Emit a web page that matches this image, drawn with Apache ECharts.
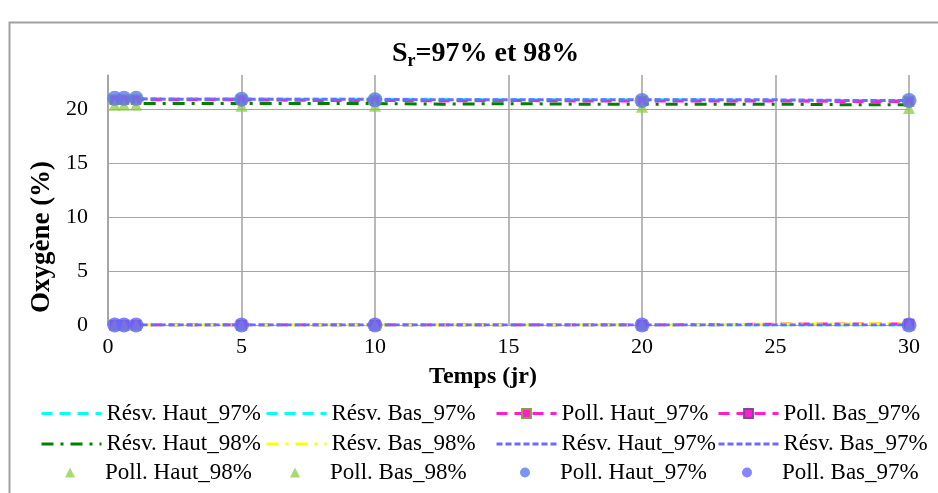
<!DOCTYPE html>
<html>
<head>
<meta charset="utf-8">
<script src="https://cdn.jsdelivr.net/npm/echarts@6/dist/echarts.min.js"></script>
<style>html,body{margin:0;padding:0;background:#fff}#c{width:938px;height:493px}</style>
</head>
<body>
<div id="c"></div>
<script>
// ---- data ----
const lineX = [0.25, 0.6, 1.05, 2.5, 5, 7.5, 10, 12.5, 15, 17.5, 20, 22.5, 25, 27.5, 30];
const markerX = [0.25, 0.6, 1.05, 5, 10, 20, 30];

const resvHaut97 = [20.95,20.95,20.95,20.95,20.95,20.9,20.9,20.9,20.85,20.85,20.85,20.85,20.8,20.8,20.8];
const resvBas97 = [0,0,0,0,0,0,0,0,0,0,0,0,0,0,0];
const pollHaut97Line = [20.85,20.85,20.85,20.85,20.85,20.8,20.8,20.75,20.8,20.75,20.75,20.75,20.75,20.7,20.7];
const pollBas97Line = [0,0,0,0,0,0,0,0,0,0,0,0.02,0.08,0.1,0.1];
const resvHaut98 = [20.5,20.5,20.5,20.5,20.5,20.5,20.5,20.45,20.5,20.45,20.45,20.45,20.45,20.4,20.4];
const resvBas98 = [0,0,0,0,0,0,0,0,0,0,0,0.02,0.08,0.1,0.12];
const resvHaut97b = [20.95,20.95,20.95,20.9,20.9,20.9,20.9,20.85,20.85,20.85,20.85,20.85,20.85,20.8,20.8];
const resvBas97b = [0,0,0,0,0,0,0,0,0,0,0,0,0,0,0];

const pollHaut98 = [20.4,20.4,20.4,20.3,20.3,20.2,20.1];
const pollBas98 = [0,0,0,0,0,0,0];
const pollHaut97 = [21.0,21.0,21.0,20.9,20.85,20.8,20.8];
const pollBas97 = [0,0,0,0,0,0,0];

const xTicks = [0,5,10,15,20,25,30];
const yGrid = [5,10,15,20];

const names = [
  'Résv. Haut_97%','Résv. Bas_97%','Poll. Haut_97%','Poll. Bas_97%',
  'Résv. Haut_98%','Résv. Bas_98%','Résv. Haut_97% ','Résv. Bas_97% ',
  'Poll. Haut_98%','Poll. Bas_98%','Poll. Haut_97% ','Poll. Bas_97% '
];

// ---- build ----
const pair = (xs, ys) => xs.map((x,i)=>[x, ys[i]]);
const pairMarked = (xs, ys) => xs.map((x,i)=>({value:[x, ys[i]], symbol: markerX.includes(x) ? 'rect' : 'none'}));
const FONT = 'Liberation Serif';

function lineSeries(name, data, color, dash, extra) {
  return Object.assign({
    name, type:'line', data, symbol:'none', showSymbol:true,
    lineStyle:{color, width:3, type:dash},
    itemStyle:{color},
    z:2
  }, extra||{});
}
const dashed = [11,7];
const dashDot = [12,7,3,7];
const shortDash = [6,3];

const series = [
  lineSeries(names[0], pair(lineX,resvHaut97), '#00FFFF', dashed, {
    markLine:{silent:true, symbol:'none', animation:false, label:{show:false},
      lineStyle:{color:'#A6A6A6', width:1, type:'solid'}, emphasis:{disabled:true},
      data: yGrid.map(v=>({yAxis:v}))}
  }),
  lineSeries(names[1], pair(lineX,resvBas97), '#00FFFF', dashed),
  lineSeries(names[2], pairMarked(lineX,pollHaut97Line), '#FF1DCE', dashed, {
    symbol:'rect', symbolSize:9, itemStyle:{color:'#FF1DCE', borderColor:'#8E9A48', borderWidth:1.5}}),
  lineSeries(names[3], pairMarked(lineX,pollBas97Line), '#FF1DCE', dashed, {
    symbol:'rect', symbolSize:9, itemStyle:{color:'#FF1DCE', borderColor:'#7A4A9A', borderWidth:1.5}}),
  lineSeries(names[4], pair(lineX,resvHaut98), '#008000', dashDot),
  lineSeries(names[5], pair(lineX,resvBas98), '#FFFF00', dashDot),
  lineSeries(names[6], pair(lineX,resvHaut97b), '#6B6BFF', shortDash),
  lineSeries(names[7], pair(lineX,resvBas97b), '#6B6BFF', shortDash),
  {name:names[8], type:'scatter', data:pair(markerX,pollHaut98), symbol:'triangle', symbolSize:12, itemStyle:{color:'#92D050'}, z:3},
  {name:names[9], type:'scatter', data:pair(markerX,pollBas98), symbol:'triangle', symbolSize:12, itemStyle:{color:'#92D050'}, z:3},
  {name:names[10], type:'scatter', data:pair(markerX,pollHaut97), symbol:'circle', symbolSize:15, itemStyle:{color:'#5C7CE8'}, z:4},
  {name:names[11], type:'scatter', data:pair(markerX,pollBas97), symbol:'circle', symbolSize:15, itemStyle:{color:'#6666FF'}, z:4}
];

const legendCols = [40, 265, 495, 717];
const legText = {fontFamily:FONT, fontSize:23, color:'#000', lineHeight:22};
const noSym = n => ({name:n, itemStyle:{opacity:0}});
const legends = [];
legendCols.forEach((left, c) => {
  legends.push({
    orient:'vertical', left, top:402, padding:0, itemWidth:60, itemHeight:11, itemGap:7.5,
    selectedMode:false,
    lineStyle:{width:3},
    data:[ c < 2 ? noSym(names[c]) : {name:names[c]}, noSym(names[c+4]) ],
    textStyle:legText
  });
  legends.push({
    orient:'vertical', left:left+25, top:461, padding:0, itemWidth:10, itemHeight:10,
    selectedMode:false,
    data:[names[c+8]],
    textStyle:Object.assign({padding:[0,0,0,25]}, legText)
  });
});

const option = {
  animation:false,
  backgroundColor:'#fff',
  title:{
    text:'{s|S}{r|r}{s|=97% et 98%}', left:387, top:33,
    textStyle:{rich:{
      s:{fontFamily:FONT, fontWeight:'bold', fontSize:28, color:'#000', lineHeight:32},
      r:{fontFamily:FONT, fontWeight:'bold', fontSize:18, color:'#000', verticalAlign:'bottom', padding:[14,0,0,0], lineHeight:32}
    }}
  },
  grid:{left:108, right:29, top:75, bottom:168, containLabel:false},
  xAxis:{
    type:'value', min:0, max:30, interval:5,
    axisLine:{show:true, onZero:false, lineStyle:{color:'#A6A6A6', width:1}},
    axisTick:{show:false},
    axisLabel:{fontFamily:FONT, fontSize:22, color:'#000', margin:11,
      customValues: xTicks},
    splitLine:{show:true, lineStyle:{color:'#A0A0A0', width:1.5}}
  },
  yAxis:{
    type:'value', min:0, max:23.15, interval:5,
    axisLine:{show:true, lineStyle:{color:'#A0A0A0', width:1.5}},
    axisTick:{show:false},
    axisLabel:{fontFamily:FONT, fontSize:22, color:'#000', margin:20, showMaxLabel:false},
    splitLine:{show:false}
  },
  legend: legends,
  graphic:[
    {type:'rect', shape:{x:9.5, y:22.5, width:960, height:500}, style:{fill:'none', stroke:'#A0A0A0', lineWidth:2}, silent:true, z:-1},
    {type:'text', x:483, y:377, style:{text:'Temps (jr)', font:'bold 24px "Liberation Serif"', fill:'#000', align:'center', verticalAlign:'middle'}},
    {type:'text', x:42, y:237, rotation:Math.PI/2, style:{text:'Oxygène (%)', font:'bold 27px "Liberation Serif"', fill:'#000', align:'center', verticalAlign:'middle'}}
  ],
  series
};
const chart = echarts.init(document.getElementById('c'), null, {renderer:'canvas'});
chart.setOption(option);
</script>
</body>
</html>
